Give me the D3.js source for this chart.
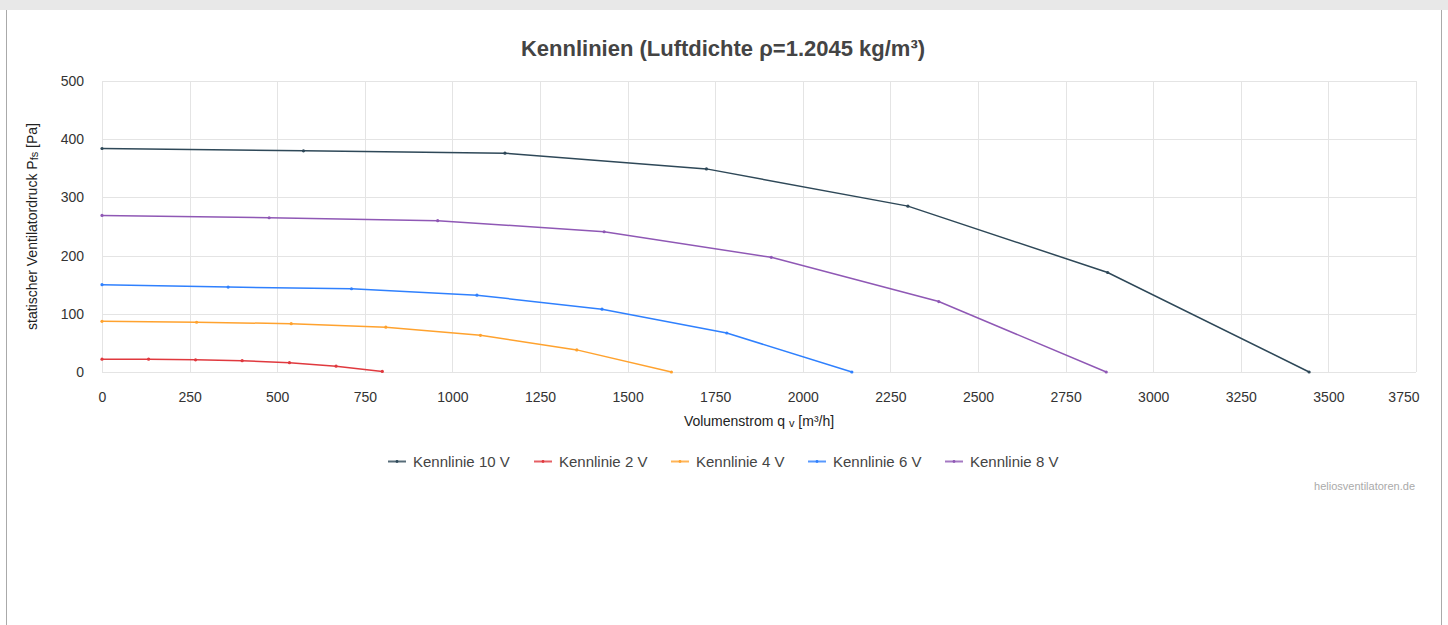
<!DOCTYPE html>
<html><head><meta charset="utf-8">
<script src="https://cdn.jsdelivr.net/npm/d3@7"></script>
<style>
html,body{margin:0;padding:0;background:#fff;}
svg{display:block;font-family:"Liberation Sans",Arial,sans-serif;}
</style></head>
<body>
<script>
const seriesNames = ["Kennlinie 10 V","Kennlinie 2 V","Kennlinie 4 V","Kennlinie 6 V","Kennlinie 8 V"];
const seriesColors = ["#2e4858","#e0393e","#ffa22e","#2f80fe","#8f58b5"];
const flow10 = [0,575,1150,1725,2300,2870,3445];
const press10 = [384,380,376,349,285,171,0];
const flow2 = [0,133,267,400,535,668,800];
const press2 = [22,22,21,19.5,16,10,1];
const flow4 = [0,270,540,810,1080,1355,1625];
const press4 = [87,85.5,83,77,63,38,0];
const flow6 = [0,360,712,1070,1427,1783,2140];
const press6 = [150,146,143,132,108,67,0];
const flow8 = [0,477,958,1433,1910,2388,2866];
const press8 = [269,265,260,241,197,121,0];
const xTicks = [0,250,500,750,1000,1250,1500,1750,2000,2250,2500,2750,3000,3250,3500,3750];
const yTicks = [0,100,200,300,400,500];
const titleText = "Kennlinien (Luftdichte ρ=1.2045 kg/m³)";
const watermark = "heliosventilatoren.de";

const flows = [flow10,flow2,flow4,flow6,flow8];
const presses = [press10,press2,press4,press6,press8];
const series = seriesNames.map((n,i)=>({name:n,color:seriesColors[i],pts:flows[i].map((f,j)=>[f,presses[i][j]])}));

const W=1448,H=625;
const svg=d3.select("body").append("svg").attr("width",W).attr("height",H);
// frame
svg.append("rect").attr("x",0).attr("y",0).attr("width",W).attr("height",10).attr("fill","#e8e8e8");
svg.append("line").attr("x1",6.5).attr("x2",6.5).attr("y1",10).attr("y2",H).attr("stroke","#aaa");
svg.append("line").attr("x1",1441.5).attr("x2",1441.5).attr("y1",10).attr("y2",H).attr("stroke","#aaa");

const x=d3.scaleLinear().domain([0,3750]).range([102,1416]);
const y=d3.scaleLinear().domain([0,500]).range([372,81]);

// grid
const g=svg.append("g");
g.selectAll(".vg").data(xTicks).join("line").attr("x1",d=>Math.round(x(d))+0.5).attr("x2",d=>Math.round(x(d))+0.5)
  .attr("y1",y(500)).attr("y2",y(0)).attr("stroke","#e4e4e4");
g.selectAll(".hg").data(yTicks).join("line").attr("y1",d=>Math.round(y(d))+0.5).attr("y2",d=>Math.round(y(d))+0.5)
  .attr("x1",x(0)).attr("x2",x(3750)).attr("stroke","#e4e4e4");

// axes via d3 axis
const xa=svg.append("g").attr("transform",`translate(0,${y(0)})`)
  .call(d3.axisBottom(x).tickValues(xTicks).tickSize(0).tickPadding(20).tickFormat(d3.format("d")));
xa.select(".domain").remove();
xa.selectAll("text").attr("font-size",14).attr("fill","#333").attr("font-family","Liberation Sans, Arial, sans-serif");
xa.selectAll(".tick").filter(d=>d===xTicks[xTicks.length-1]).select("text").attr("text-anchor","end").attr("dx",3);
const ya=svg.append("g").attr("transform",`translate(${x(0)},0)`)
  .call(d3.axisLeft(y).tickValues(yTicks).tickSize(0).tickPadding(18).tickFormat(d3.format("d")));
ya.select(".domain").remove();
ya.selectAll("text").attr("font-size",14).attr("fill","#333").attr("font-family","Liberation Sans, Arial, sans-serif");

// title
svg.append("text").attr("x",723).attr("y",56).attr("text-anchor","middle").attr("font-size",22)
  .attr("font-weight","bold").attr("fill","#444").text(titleText);

// axis titles
const yt=svg.append("text").attr("transform",`translate(37,${(y(0)+y(500))/2}) rotate(-90)`)
  .attr("text-anchor","middle").attr("font-size",14).attr("fill","#222");
yt.append("tspan").text("statischer Ventilatordruck P");
yt.append("tspan").attr("font-size",11).attr("dy",1).text("fs");
yt.append("tspan").attr("dy",-1).text(" [Pa]");

const xt=svg.append("text").attr("x",(x(0)+x(3750))/2).attr("y",426)
  .attr("text-anchor","middle").attr("font-size",14).attr("fill","#222");
xt.append("tspan").text("Volumenstrom q ");
xt.append("tspan").attr("font-size",11).attr("dy",1).text("v");
xt.append("tspan").attr("dy",-1).text(" [m³/h]");

// lines
const line=d3.line().x(d=>x(d[0])).y(d=>y(d[1]));
const sg=svg.append("g");
series.forEach(s=>{
  sg.append("path").attr("d",line(s.pts)).attr("fill","none").attr("stroke",s.color).attr("stroke-width",1.5);
  sg.selectAll(null).data(s.pts).join("circle").attr("cx",d=>x(d[0])).attr("cy",d=>y(d[1])).attr("r",1.6).attr("fill",s.color);
});

// legend
const legX=[388,534,671,808,945];
const lg=svg.append("g");
series.forEach((s,i)=>{
  const gx=legX[i];
  lg.append("line").attr("x1",gx).attr("x2",gx+18).attr("y1",461.5).attr("y2",461.5).attr("stroke",s.color).attr("stroke-width",2).attr("opacity",0.8);
  lg.append("circle").attr("cx",gx+9).attr("cy",461.5).attr("r",1.4).attr("fill",s.color);
  lg.append("text").attr("x",gx+25).attr("y",466.5).attr("font-size",15).attr("fill","#444").text(s.name);
});

svg.append("text").attr("x",1415).attr("y",490).attr("text-anchor","end").attr("font-size",11).attr("fill","#aaa").text(watermark);
</script>
</body></html>
